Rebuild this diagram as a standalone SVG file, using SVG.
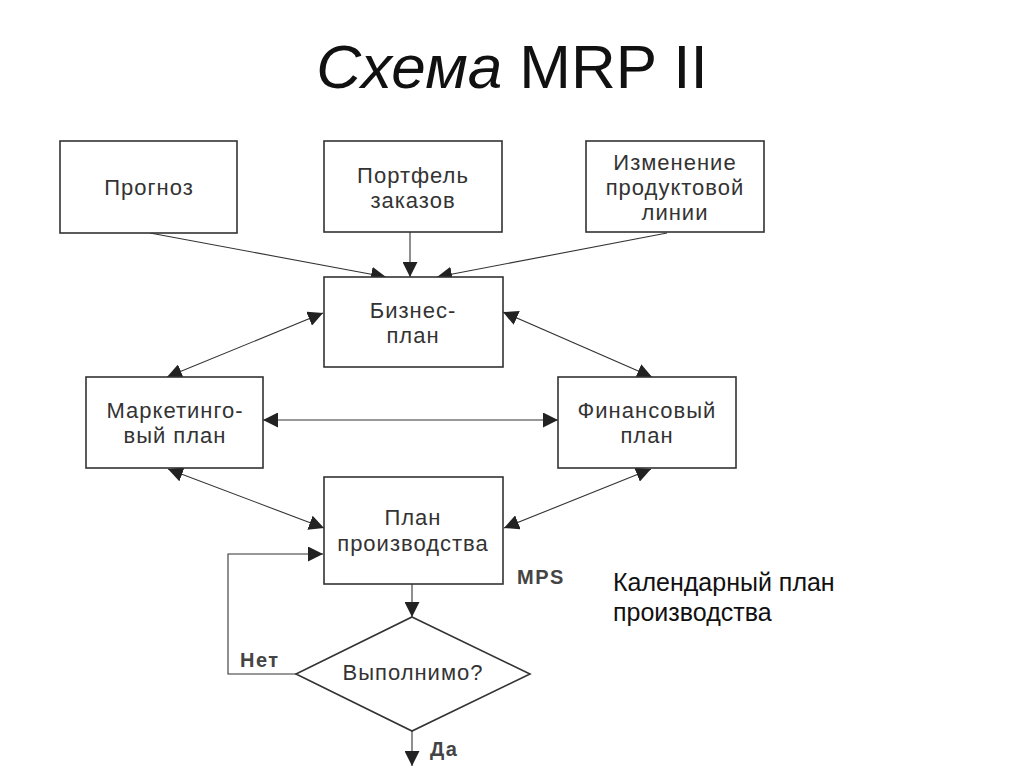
<svg xmlns="http://www.w3.org/2000/svg" width="1024" height="767" viewBox="0 0 1024 767">
<defs>
<marker id="ah" viewBox="0 0 10 10" refX="10" refY="5" markerWidth="15" markerHeight="15" markerUnits="userSpaceOnUse" orient="auto-start-reverse"><path d="M0,0 L10,5 L0,10 z" fill="#222"/></marker>
</defs>
<style>
.box{fill:#fff;stroke:#333;stroke-width:1.6}
.t{font-family:"Liberation Sans",Arial,sans-serif;font-size:22px;letter-spacing:1px;fill:#333;text-anchor:middle}
.b{font-family:"Liberation Sans",Arial,sans-serif;font-size:20px;font-weight:bold;letter-spacing:1.5px;fill:#444}
.c{fill:none;stroke:#333;stroke-width:1.1}
.cap{font-family:"Liberation Sans",Arial,sans-serif;font-size:25px;fill:#111}
</style>
<rect width="1024" height="767" fill="#fff"/>
<text x="512" y="88" font-family="Liberation Sans,Arial,sans-serif" font-size="62" fill="#111" text-anchor="middle"><tspan font-style="italic">Схема</tspan> MRP II</text>

<g id="connectors">
<line class="c" x1="150" y1="233" x2="386" y2="277" marker-end="url(#ah)"/>
<line class="c" x1="410" y1="232" x2="410" y2="277" marker-end="url(#ah)"/>
<line class="c" x1="667" y1="233" x2="437" y2="277" marker-end="url(#ah)"/>
<line class="c" x1="167" y1="377" x2="323" y2="313" marker-start="url(#ah)" marker-end="url(#ah)"/>
<line class="c" x1="652" y1="377" x2="503" y2="312" marker-start="url(#ah)" marker-end="url(#ah)"/>
<line class="c" x1="263" y1="420" x2="558" y2="420" marker-start="url(#ah)" marker-end="url(#ah)"/>
<line class="c" x1="168" y1="469" x2="324" y2="528" marker-start="url(#ah)" marker-end="url(#ah)"/>
<line class="c" x1="651" y1="469" x2="504" y2="528" marker-start="url(#ah)" marker-end="url(#ah)"/>
<polyline class="c" points="296,674 228,674 228,554 323,554" marker-end="url(#ah)"/>
<line class="c" x1="412" y1="584" x2="412" y2="617" marker-end="url(#ah)"/>
<line class="c" x1="412" y1="731" x2="412" y2="766" marker-end="url(#ah)"/>
</g>

<g id="n-prognoz"><rect class="box" x="60" y="141" width="177" height="92"/><text class="t" x="149" y="195">Прогноз</text></g>
<g id="n-portfel"><rect class="box" x="324" y="141" width="178" height="91"/><text class="t" x="413" y="183">Портфель</text><text class="t" x="413" y="208">заказов</text></g>
<g id="n-izmenenie"><rect class="box" x="586" y="141" width="178" height="91"/><text class="t" x="675" y="170">Изменение</text><text class="t" x="675" y="195">продуктовой</text><text class="t" x="675" y="220">линии</text></g>
<g id="n-biznes"><rect class="box" x="324" y="277" width="179" height="90"/><text class="t" x="413" y="318">Бизнес-</text><text class="t" x="413" y="343">план</text></g>
<g id="n-marketing"><rect class="box" x="86" y="377" width="177" height="91"/><text class="t" x="175" y="418">Маркетинго-</text><text class="t" x="175" y="443">вый план</text></g>
<g id="n-finans"><rect class="box" x="558" y="377" width="178" height="91"/><text class="t" x="647" y="418">Финансовый</text><text class="t" x="647" y="443">план</text></g>
<g id="n-proizv"><rect class="box" x="324" y="477" width="179" height="107"/><text class="t" x="413" y="525">План</text><text class="t" x="413" y="551">производства</text></g>
<g id="n-vypolnimo"><polygon class="box" points="412,617 530,674 412,731 296,674"/><text class="t" x="413" y="680">Выполнимо?</text></g>

<text class="b" x="517" y="584">MPS</text>
<text class="b" x="240" y="667">Нет</text>
<text class="b" x="430" y="756">Да</text>
<text class="cap" x="613" y="591">Календарный план</text>
<text class="cap" x="613" y="621">производства</text>
</svg>
